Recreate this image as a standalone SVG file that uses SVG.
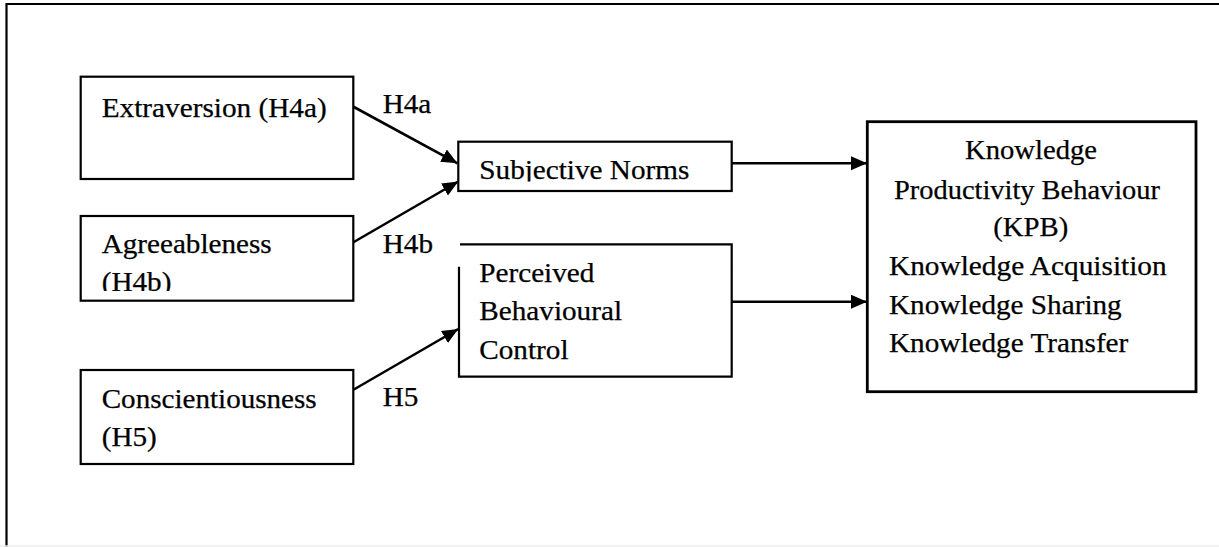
<svg xmlns="http://www.w3.org/2000/svg" width="1219" height="547" viewBox="0 0 1219 547">
  <style>
    .box { fill: #ffffff; stroke: #000000; stroke-width: 2.2; }
    .box-thick { fill: #ffffff; stroke: #000000; stroke-width: 2.8; }
    .lbl { font-family: "Liberation Serif", "Times New Roman", serif; font-size: 26.5px; fill: #000000; stroke: #000000; stroke-width: 0.25; }
    .edge { stroke: #000000; stroke-width: 2.6; fill: none; marker-end: url(#arrow); }
    .frame { stroke: #000000; stroke-width: 2.2; fill: none; }
  </style>
  <defs>
    <marker id="arrow" markerUnits="userSpaceOnUse" markerWidth="18" markerHeight="16" refX="16" refY="7" orient="auto">
      <path d="M0,0 L16,7 L0,14 z" fill="#000000"/>
    </marker>
    <clipPath id="clipSN"><rect x="458" y="140" width="274" height="41.5"/></clipPath>
    <clipPath id="clipAg"><rect x="80" y="215" width="274" height="76"/></clipPath>
  </defs>

  <rect x="0" y="0" width="1219" height="547" fill="#ffffff"/>

  <!-- outer frame: top and left rules, faint bottom rule -->
  <g id="frame">
    <path class="frame" d="M6.5,547 L6.5,4 L1219,4"/>
    <line x1="0" y1="546" x2="1219" y2="546" stroke="#eeeeee" stroke-width="1.5"/>
  </g>

  <!-- connectors -->
  <g id="connectors">
    <line class="edge" x1="353" y1="106.5" x2="457.5" y2="163.3"/>
    <line class="edge" x1="353" y1="242.5" x2="458.3" y2="181.5"/>
    <line class="edge" x1="353" y1="390" x2="458.3" y2="329"/>
    <line class="edge" x1="732" y1="163.3" x2="867" y2="163.3"/>
    <line class="edge" x1="732" y1="301.7" x2="867" y2="301.7"/>
  </g>

  <!-- path labels -->
  <g id="path-labels">
    <text class="lbl" x="382.7" y="113.3" textLength="48.6" lengthAdjust="spacingAndGlyphs">H4a</text>
    <text class="lbl" x="382.7" y="252.7" textLength="50.3" lengthAdjust="spacingAndGlyphs">H4b</text>
    <text class="lbl" x="382.7" y="405.7" textLength="35.7" lengthAdjust="spacingAndGlyphs">H5</text>
  </g>

  <g id="extraversion">
    <rect class="box" x="80.7" y="76.7" width="272.6" height="102.3"/>
    <text class="lbl" x="101.7" y="116.7" textLength="225" lengthAdjust="spacingAndGlyphs">Extraversion (H4a)</text>
  </g>

  <g id="agreeableness">
    <rect class="box" x="80.7" y="216" width="272.6" height="84.7"/>
    <g clip-path="url(#clipAg)">
      <text class="lbl" x="101.7" y="252.7" textLength="170" lengthAdjust="spacingAndGlyphs">Agreeableness</text>
      <text class="lbl" x="101.7" y="290.5" textLength="69.7" lengthAdjust="spacingAndGlyphs">(H4b)</text>
    </g>
  </g>

  <g id="conscientiousness">
    <rect class="box" x="80.7" y="370" width="272.6" height="94"/>
    <text class="lbl" x="101.7" y="407.7" textLength="215" lengthAdjust="spacingAndGlyphs">Conscientiousness</text>
    <text class="lbl" x="101.7" y="445.7" textLength="55.1" lengthAdjust="spacingAndGlyphs">(H5)</text>
  </g>

  <g id="subjective-norms">
    <rect class="box" x="458.3" y="141.7" width="273.4" height="49.3"/>
    <text class="lbl" x="479.3" y="179.3" textLength="210" lengthAdjust="spacingAndGlyphs" clip-path="url(#clipSN)">Subjective Norms</text>
  </g>

  <g id="perceived-behavioural-control">
    <rect x="459" y="244.3" width="272.7" height="132.4" fill="#ffffff"/>
    <path class="box" fill="none" d="M459,266.7 L459,376.7 L731.7,376.7 L731.7,244.3 L460,244.3"/>
    <text class="lbl" x="479.3" y="281.7" textLength="115.1" lengthAdjust="spacingAndGlyphs">Perceived</text>
    <text class="lbl" x="479.3" y="320" textLength="142.7" lengthAdjust="spacingAndGlyphs">Behavioural</text>
    <text class="lbl" x="479.3" y="359" textLength="89.2" lengthAdjust="spacingAndGlyphs">Control</text>
  </g>

  <g id="kpb">
    <rect class="box-thick" x="867.3" y="121.7" width="328.7" height="270"/>
    <text class="lbl" x="1031" y="159" text-anchor="middle" textLength="132" lengthAdjust="spacingAndGlyphs">Knowledge</text>
    <text class="lbl" x="1027" y="198.5" text-anchor="middle" textLength="266" lengthAdjust="spacingAndGlyphs">Productivity Behaviour</text>
    <text class="lbl" x="1030.8" y="236.4" text-anchor="middle" textLength="75" lengthAdjust="spacingAndGlyphs">(KPB)</text>
    <text class="lbl" x="889" y="275" textLength="277.7" lengthAdjust="spacingAndGlyphs">Knowledge Acquisition</text>
    <text class="lbl" x="889" y="313.5" textLength="232.7" lengthAdjust="spacingAndGlyphs">Knowledge Sharing</text>
    <text class="lbl" x="889" y="352.3" textLength="239.3" lengthAdjust="spacingAndGlyphs">Knowledge Transfer</text>
  </g>
</svg>
